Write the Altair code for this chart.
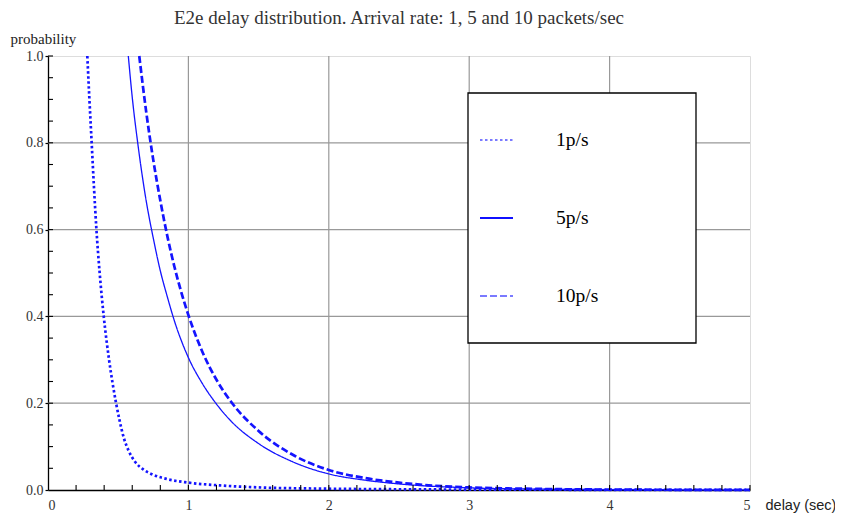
import altair as alt
import pandas as pd

# ---- data ----
series = ["1p/s", "5p/s", "10p/s"]

x_1ps = [0.28, 0.295, 0.311, 0.327, 0.345, 0.368, 0.397, 0.435, 0.485, 0.51, 0.54, 0.575, 0.62, 0.68, 0.75, 0.85, 1.0, 1.25, 1.5, 2.0, 2.5, 3.0, 4.0, 5.0]
y_1ps = [1.0, 0.90, 0.80, 0.70, 0.60, 0.50, 0.40, 0.30, 0.20, 0.16, 0.12, 0.09, 0.065, 0.047, 0.035, 0.025, 0.017, 0.010, 0.006, 0.003, 0.0017, 0.001, 0.0004, 0.0002]

x_5ps = [0.572, 0.60, 0.643, 0.70, 0.75, 0.80, 0.85, 0.90, 1.0, 1.1, 1.2, 1.3, 1.5, 1.75, 2.0, 2.25, 2.5, 3.0, 3.5, 4.0, 4.5, 5.0]
y_5ps = [1.0, 0.905, 0.79, 0.665, 0.58, 0.505, 0.445, 0.39, 0.305, 0.245, 0.198, 0.16, 0.107, 0.064, 0.037, 0.023, 0.014, 0.005, 0.002, 0.001, 0.0005, 0.0002]

x_10ps = [0.65, 0.70, 0.75, 0.80, 0.85, 0.90, 0.95, 1.0, 1.1, 1.2, 1.3, 1.5, 1.75, 2.0, 2.25, 2.5, 2.75, 3.0, 3.5, 4.0, 5.0]
y_10ps = [1.0, 0.87, 0.76, 0.667, 0.585, 0.515, 0.455, 0.403, 0.318, 0.254, 0.205, 0.136, 0.080, 0.046, 0.028, 0.017, 0.010, 0.006, 0.0025, 0.001, 0.0002]

x_labels = [0, 1, 2, 3, 4, 5]
y_labels = [0.0, 0.2, 0.4, 0.6, 0.8, 1.0]
grid_x = [1, 2, 3, 4]
grid_y = [0.2, 0.4, 0.6, 0.8]
minor_x = [0.2, 0.4, 0.6, 0.8, 1.0, 1.2, 1.4, 1.6, 1.8, 2.0, 2.2, 2.4, 2.6, 2.8, 3.0,
           3.2, 3.4, 3.6, 3.8, 4.0, 4.2, 4.4, 4.6, 4.8, 5.0]
minor_y = [0.05, 0.1, 0.15, 0.2, 0.25, 0.3, 0.35, 0.4, 0.45, 0.5, 0.55, 0.6, 0.65, 0.7,
           0.75, 0.8, 0.85, 0.9, 0.95, 1.0]

title_text = "E2e delay distribution. Arrival rate: 1, 5 and 10 packets/sec"

# ---- tables ----
rows = []
for name, xs, ys in [("1p/s", x_1ps, y_1ps), ("5p/s", x_5ps, y_5ps), ("10p/s", x_10ps, y_10ps)]:
    for a, b in zip(xs, ys):
        rows.append({"series": name, "delay": a, "prob": b})
df = pd.DataFrame(rows)
legend_df = pd.DataFrame({"series": series})

W, H = 702, 434
SERIF = "Liberation Serif"
xscale = alt.Scale(domain=[0, 5], nice=False, zero=False)
yscale = alt.Scale(domain=[0, 1], nice=False, zero=False)
dash_scale = alt.Scale(type="ordinal", domain=series, range=[[2.5, 2.5], [1, 0], [7, 3]])
width_scale = alt.Scale(type="ordinal", domain=series, range=[2.7, 1.3, 2.7])

grid_v = alt.Chart(pd.DataFrame({"delay": grid_x})).mark_rule(color="#999999", strokeWidth=1.2).encode(
    x=alt.X("delay:Q", scale=xscale))
grid_h = alt.Chart(pd.DataFrame({"prob": grid_y})).mark_rule(color="#999999", strokeWidth=1.2).encode(
    y=alt.Y("prob:Q", scale=yscale))

lines = alt.Chart(df).mark_line(interpolate="monotone", color="#1414ff").encode(
    x=alt.X("delay:Q", scale=xscale,
            axis=alt.Axis(values=x_labels, format="d", ticks=False, grid=False,
                          domainColor="black", domainWidth=1.3,
                          labelFont=SERIF, labelFontSize=14, labelColor="#333333", labelPadding=8,
                          title="delay (sec)", titleFont="Liberation Sans", titleFontSize=14.5,
                          titleFontWeight="normal", titleColor="#222222",
                          titleX=W + 15, titleY=15, titleAlign="left", titleBaseline="middle")),
    y=alt.Y("prob:Q", scale=yscale,
            axis=alt.Axis(values=y_labels, format=".1f", tickSize=3, tickColor="black", tickWidth=1.2,
                          grid=False, domainColor="black", domainWidth=1.3,
                          labelFont=SERIF, labelFontSize=14, labelColor="#333333", labelPadding=2,
                          title="probability", titleFont=SERIF, titleFontSize=15,
                          titleFontWeight="normal", titleColor="#222222", titleAngle=0,
                          titleX=-38, titleY=-18, titleAlign="left", titleBaseline="middle")),
    strokeDash=alt.StrokeDash("series:N", scale=dash_scale, legend=None),
    strokeWidth=alt.StrokeWidth("series:N", scale=width_scale, legend=None),
    detail="series:N",
)

ticks_x = alt.Chart(pd.DataFrame({"delay": minor_x})).mark_rule(color="black", strokeWidth=1.1).encode(
    x=alt.X("delay:Q", scale=xscale), y=alt.value(H), y2=alt.value(H - 5))
ticks_y = alt.Chart(pd.DataFrame({"prob": minor_y})).mark_rule(color="black", strokeWidth=1.1).encode(
    y=alt.Y("prob:Q", scale=yscale), x=alt.value(0), x2=alt.value(5))

main = alt.layer(grid_v, grid_h, lines, ticks_x, ticks_y)

legend_y = alt.Scale(type="point", domain=series, range=[84, 240], padding=0)
box = alt.Chart(pd.DataFrame({"a": [0]})).mark_rect(fill="white", stroke="black", strokeWidth=1.3).encode(
    x=alt.value(420), x2=alt.value(648), y=alt.value(37), y2=alt.value(287))
sym = alt.Chart(legend_df).mark_rule(strokeWidth=2).encode(
    x=alt.value(432), x2=alt.value(465),
    y=alt.Y("series:N", scale=legend_y, axis=None),
    strokeDash=alt.StrokeDash("series:N", scale=dash_scale, legend=None),
    color=alt.Color("series:N", scale=alt.Scale(type="ordinal", domain=series,
                                                range=["#7a7aff", "#1010ff", "#7a7aff"]), legend=None),
)
txt = alt.Chart(legend_df).mark_text(align="left", baseline="middle", font=SERIF, fontSize=19.5, color="black").encode(
    x=alt.value(508), y=alt.Y("series:N", scale=legend_y, axis=None), text="series:N")
legend = alt.layer(box, sym, txt)

chart = alt.layer(main, legend).resolve_scale(y="independent").properties(
    width=W, height=H,
    title=alt.Title(title_text, font=SERIF, fontSize=19, fontWeight="normal", color="#333333",
                    anchor="middle", offset=3),
    autosize=alt.AutoSizeParams(type="none"),
    padding={"left": 40, "top": 48, "right": 85, "bottom": 26},
).configure_view(stroke=None).configure(background="white")

chart.save("out.html", embed_options={"renderer": "svg", "actions": False})
